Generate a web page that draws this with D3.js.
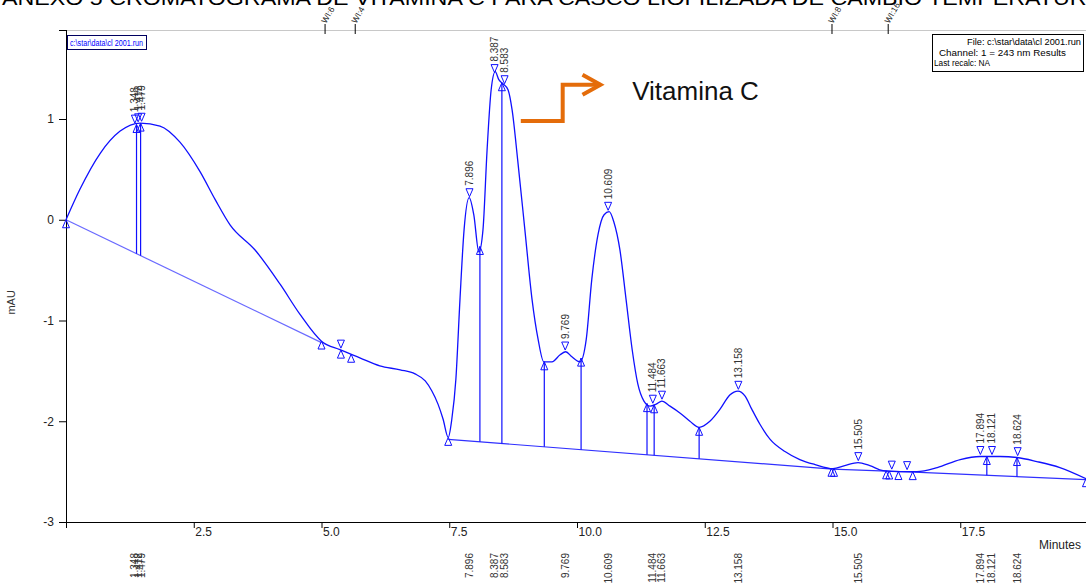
<!DOCTYPE html>
<html><head><meta charset="utf-8">
<script src="https://cdn.jsdelivr.net/npm/d3@7"></script>
<style>body{margin:0;background:#fff;overflow:hidden} svg{display:block;font-family:"Liberation Sans",Arial,sans-serif;}</style>
</head><body><svg id="c" width="1086" height="583"></svg>
<script>
// ---- data ----
const traceTime = [0,0.27,0.67,1.06,1.45,1.84,2.23,2.62,2.92,3.21,3.70,4.19,4.58,5.01,5.36,5.75,6.14,6.54,6.83,7.03,7.16,7.28,7.38,7.48,7.55,7.63,7.71,7.79,7.89,7.98,8.08,8.16,8.24,8.32,8.40,8.47,8.55,8.65,8.73,8.84,8.98,9.12,9.24,9.35,9.51,9.67,9.78,9.90,10.06,10.18,10.29,10.41,10.53,10.63,10.72,10.84,10.96,11.08,11.19,11.31,11.43,11.55,11.66,11.82,12.02,12.21,12.39,12.60,12.80,12.99,13.15,13.29,13.42,13.58,13.78,14.07,14.36,14.66,15.01,15.24,15.50,15.73,15.99,16.32,16.65,17.05,17.50,17.89,18.28,18.61,19.00,19.45,19.96];
const traceMAU = [0,0.30,0.66,0.88,0.96,0.93,0.77,0.48,0.20,-0.05,-0.30,-0.64,-0.94,-1.21,-1.29,-1.37,-1.45,-1.49,-1.53,-1.60,-1.70,-1.83,-1.98,-2.16,-1.98,-1.58,-0.79,-0.10,0.22,0.05,-0.32,-0.10,0.69,1.29,1.47,1.39,1.35,1.29,1.09,0.59,-0.10,-0.79,-1.19,-1.41,-1.41,-1.34,-1.31,-1.36,-1.41,-1.19,-0.59,-0.15,0.05,0.08,-0.02,-0.30,-0.79,-1.29,-1.63,-1.80,-1.85,-1.83,-1.80,-1.85,-1.92,-2.00,-2.06,-2.00,-1.88,-1.74,-1.70,-1.75,-1.88,-2.03,-2.18,-2.30,-2.38,-2.43,-2.47,-2.44,-2.41,-2.44,-2.49,-2.50,-2.50,-2.46,-2.38,-2.35,-2.35,-2.36,-2.40,-2.46,-2.57];

const peakTimes = [1.348,1.412,1.479,7.896,8.387,8.583,9.769,10.609,11.484,11.663,13.158,15.505,17.894,18.121,18.624];
const peakLabels = ["1.348","1.412","1.479","7.896","8.387","8.583","9.769","10.609","11.484","11.663","13.158","15.505","17.894","18.121","18.624"];
const unlabelledApex = [5.38,16.16,16.46];
const boundaryTimes = [0,1.38,1.46,5.0,5.38,5.58,7.48,8.10,8.53,9.36,10.08,11.37,11.51,12.39,14.98,15.03,16.05,16.11,16.29,16.57,18.02,18.61,19.96];
const dropTimes = [1.38,1.46,8.10,8.53,9.36,10.08,11.37,11.51,12.39,18.02,18.61];
const baselineTimes = [[0,5.0],[7.48,15.0],[15.0,16.6],[16.6,19.96]];
const baselineMAU = [[0,-1.22],[-2.18,-2.475],[-2.475,-2.505],[-2.505,-2.58]];
const xTicks = [2.5,5.0,7.5,10.0,12.5,15.0,17.5];
const yTicks = [1,0,-1,-2,-3];
const eventTimes = [5.07,5.66,14.99,16.09];
const eventLabels = ["WI:6","WI:4","WI:8","WI:16"];
const titleText = "ANEXO 5  CROMATOGRAMA DE VITAMINA C PARA CASCO LIOFILIZADA DE CAMBIO TEMPERATURA";
const infoLines = ["File: c:\\star\\data\\cl 2001.run","Channel: 1 = 243 nm  Results","Last recalc: NA"];
const fileTag = "c:\\star\\data\\cl 2001.run";
const annotationText = "Vitamina C";

// ---- scales ----
const svg = d3.select("#c");
const x = d3.scaleLinear().domain([0,20]).range([66,1088]);
const y = d3.scaleLinear().domain([-3,1]).range([522,119]);
const plotTop = 30, plotBottom = 522, plotLeft = 66;
const blue = "#1010ff", lightBlue = "#6a6aff";

const interp = (arrT, arrV, t) => {
  const i = d3.bisectRight(arrT, t);
  if (i <= 0) return arrV[0];
  if (i >= arrT.length) return arrV[arrV.length-1];
  const t0 = arrT[i-1], t1 = arrT[i];
  return arrV[i-1] + (arrV[i]-arrV[i-1])*(t-t0)/(t1-t0);
};
const curveAt = t => interp(traceTime, traceMAU, t);
const baseAt = t => {
  for (let k=0;k<baselineTimes.length;k++){
    const [a,b]=baselineTimes[k];
    if (t>=a && t<=b) return baselineMAU[k][0]+(baselineMAU[k][1]-baselineMAU[k][0])*(t-a)/(b-a);
  }
  return null;
};

// title (cut off at top, as in the source image)
svg.append("text").attr("x",2).attr("y",5).attr("font-size",20).attr("fill","#000")
  .attr("textLength",1100).attr("lengthAdjust","spacingAndGlyphs").text(titleText);

// frame top line
svg.append("line").attr("x1",plotLeft).attr("x2",1086).attr("y1",plotTop+0.5).attr("y2",plotTop+0.5)
  .attr("stroke","#c8c8c8").attr("stroke-width",1);

// axes
const gx = svg.append("g").attr("transform",`translate(0,${plotBottom})`)
  .call(d3.axisBottom(x).tickValues([0].concat(xTicks)).tickSize(6).tickSizeOuter(0).tickFormat(d=> d===0?"":d3.format(".1f")(d)));
gx.select(".domain").attr("stroke","#000");
gx.selectAll(".tick line").attr("stroke","#000");
gx.selectAll(".tick text").attr("text-anchor","start").attr("dx",1).attr("dy","0.35em").attr("y",10)
  .attr("font-size",12).attr("fill","#222").attr("font-family","Liberation Sans,Arial,sans-serif");
svg.append("line").attr("x1",60).attr("x2",plotLeft).attr("y1",plotBottom+0.5).attr("y2",plotBottom+0.5).attr("stroke","#000");

const gy = svg.append("g").attr("transform",`translate(${plotLeft},0)`)
  .call(d3.axisLeft(y).tickValues(yTicks).tickSize(7).tickSizeOuter(0).tickFormat(d=>String(d)));
gy.select(".domain").remove();
gy.selectAll(".tick line").attr("stroke","#000");
gy.selectAll(".tick text").attr("font-size",12).attr("fill","#222").attr("dx",-2).attr("font-family","Liberation Sans,Arial,sans-serif");
svg.append("line").attr("x1",plotLeft+0.5).attr("x2",plotLeft+0.5).attr("y1",plotTop).attr("y2",plotBottom+6).attr("stroke","#000");
svg.append("line").attr("x1",59).attr("x2",plotLeft).attr("y1",plotTop+0.5).attr("y2",plotTop+0.5).attr("stroke","#000");

svg.append("text").attr("transform",`translate(15,${y(-0.82)}) rotate(-90)`).attr("text-anchor","middle")
  .attr("font-size",11).attr("fill","#333").text("mAU");
svg.append("text").attr("x",1039).attr("y",549).attr("font-size",12).attr("fill","#222").text("Minutes");

// events at top
eventTimes.forEach((t,i)=>{
  svg.append("line").attr("x1",x(t)).attr("x2",x(t)).attr("y1",plotTop-6).attr("y2",plotTop+4).attr("stroke","#000");
  svg.append("text").attr("transform",`translate(${x(t)+1},${plotTop-6}) rotate(-60)`)
    .attr("font-size",8.5).attr("fill","#222").text(eventLabels[i]);
});

// baselines
baselineTimes.forEach((seg,k)=>{
  svg.append("line").attr("x1",x(seg[0])).attr("x2",x(seg[1]))
    .attr("y1",y(baselineMAU[k][0])).attr("y2",y(baselineMAU[k][1]))
    .attr("stroke",k===0?lightBlue:"#3030ff").attr("stroke-width",1.2);
});
// drop lines
dropTimes.forEach(t=>{
  svg.append("line").attr("x1",x(t)).attr("x2",x(t)).attr("y1",y(curveAt(t))).attr("y2",y(baseAt(t)))
    .attr("stroke",blue).attr("stroke-width",1.2);
});

// trace
const pts = traceTime.map((t,i)=>[t,traceMAU[i]]);
svg.append("path").datum(pts)
  .attr("d",d3.line().x(d=>x(d[0])).y(d=>y(d[1])).curve(d3.curveMonotoneX))
  .attr("fill","none").attr("stroke",blue).attr("stroke-width",1.3);

// markers
const down = "M0,0 L-3.5,-8 L3.5,-8 Z";
const up = "M0,0 L-3.5,8 L3.5,8 Z";
peakTimes.concat(unlabelledApex).forEach(t=>{
  svg.append("path").attr("d",down).attr("transform",`translate(${x(t)},${y(curveAt(t))-2})`)
    .attr("fill","none").attr("stroke",blue).attr("stroke-width",1);
});
boundaryTimes.forEach(t=>{
  svg.append("path").attr("d",up).attr("transform",`translate(${x(t)},${y(curveAt(t))})`)
    .attr("fill","none").attr("stroke",blue).attr("stroke-width",1);
});
// peak labels
peakTimes.forEach((t,i)=>{
  svg.append("text").attr("transform",`translate(${x(t)+3.5},${y(curveAt(t))-13}) rotate(-90)`)
    .attr("font-size",10).attr("fill","#333").text(peakLabels[i]);
  svg.append("text").attr("transform",`translate(${x(t)+3.5},553) rotate(-90)`).attr("text-anchor","end")
    .attr("font-size",10).attr("fill","#333").text(peakLabels[i]);
});

// file tag box
svg.append("rect").attr("x",67.5).attr("y",35.5).attr("width",79).attr("height",14).attr("fill","#fff").attr("stroke","#000060");
svg.append("text").attr("x",70).attr("y",46).attr("font-size",8.5).attr("fill","#0000ff")
  .attr("textLength",73).attr("lengthAdjust","spacingAndGlyphs").text(fileTag);

// info box
svg.append("rect").attr("x",932.5).attr("y",34.5).attr("width",151).attr("height",37).attr("fill","#fff").attr("stroke","#000");
svg.append("text").attr("x",1081).attr("y",45).attr("text-anchor","end").attr("font-size",8.5)
  .attr("textLength",114).attr("lengthAdjust","spacingAndGlyphs").text(infoLines[0]);
svg.append("text").attr("x",1066).attr("y",56).attr("text-anchor","end").attr("font-size",8.5)
  .attr("textLength",127).attr("lengthAdjust","spacingAndGlyphs").text(infoLines[1]);
svg.append("text").attr("x",934).attr("y",66).attr("font-size",8.5)
  .attr("textLength",56).attr("lengthAdjust","spacingAndGlyphs").text(infoLines[2]);

// annotation (positioned in data space)
const orange = "#e46c0a";
const arrowPts = [[8.9,0.98],[9.72,0.98],[9.72,1.34],[10.46,1.34]];
svg.append("path").attr("d",d3.line().x(d=>x(d[0])).y(d=>y(d[1]))(arrowPts))
  .attr("fill","none").attr("stroke",orange).attr("stroke-width",4).attr("stroke-linejoin","miter");
const tip = arrowPts[3];
svg.append("path").attr("d",`M${x(tip[0])-18},${y(tip[1])-10} L${x(tip[0])},${y(tip[1])} L${x(tip[0])-18},${y(tip[1])+10}`)
  .attr("fill","none").attr("stroke",orange).attr("stroke-width",4).attr("stroke-linejoin","miter");
svg.append("text").attr("x",x(11.08)).attr("y",y(1.19)).attr("font-size",26).attr("fill","#111").text(annotationText);
</script></body></html>
